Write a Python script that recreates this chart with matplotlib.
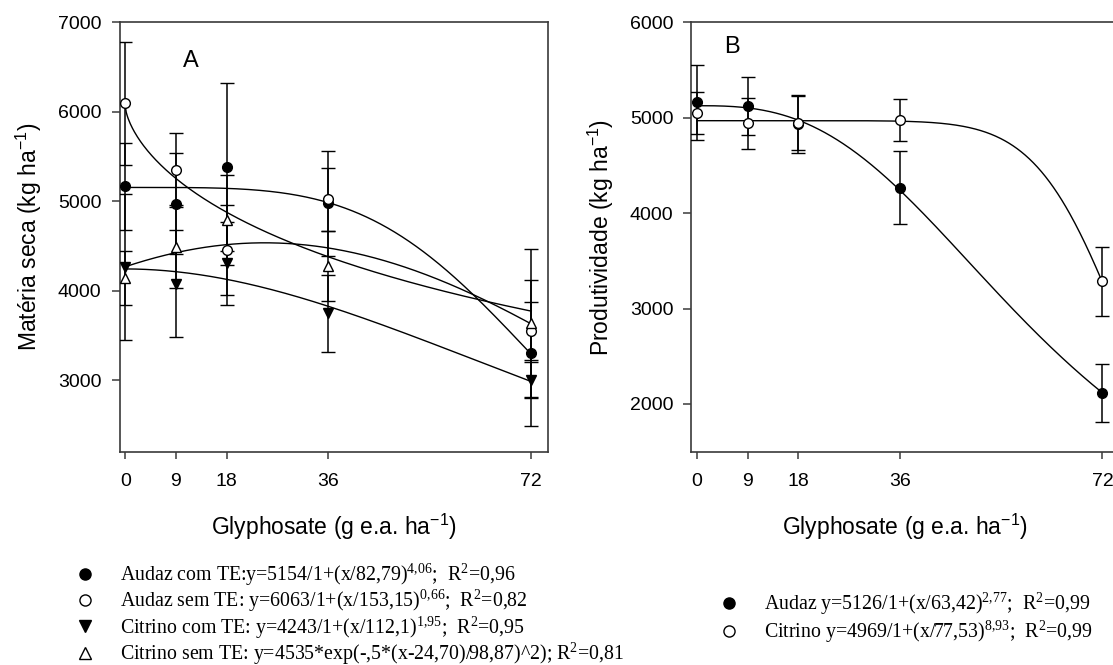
import numpy as np
import matplotlib
matplotlib.use("Agg")
import matplotlib.pyplot as plt
from matplotlib.lines import Line2D

plt.rcParams['font.family'] = ['Liberation Sans', 'DejaVu Sans']
plt.rcParams['mathtext.fontset'] = 'custom'
plt.rcParams['mathtext.rm'] = 'Liberation Serif'
plt.rcParams['mathtext.default'] = 'regular'

# ---------------- data ----------------
doses = [0, 9, 18, 36, 72]
dose_ticks = [0, 9, 18, 36, 72]

# Panel A: Matéria seca
audaz_com = [5165, 4970, 5385, 4975, 3304]
audaz_com_err = [490, 565, 940, 585, 820]
audaz_sem = [6095, 5345, 4453, 5020, 3548]
audaz_sem_err = [690, 415, 503, 355, 320]
citrino_com = [4262, 4080, 4304, 3745, 3000]
citrino_com_err = [815, 597, 466, 430, 200]
citrino_sem = [4140, 4490, 4789, 4274, 3640]
citrino_sem_err = [300, 465, 505, 390, 830]

# fitted curve parameters (as drawn)
audaz_com_fit = [5154, 82.79, 4.06]
audaz_sem_fit = [6063, 153.15, 0.66]
citrino_com_fit = [4243, 112.1, 1.95]
citrino_sem_fit = [4535, 24.70, 70.8]

# Panel B: Produtividade
audaz_prod = [5160, 5122, 4933, 4268, 2115]
audaz_prod_err = [390, 300, 300, 380, 300]
citrino_prod = [5045, 4940, 4947, 4975, 3284]
citrino_prod_err = [220, 270, 285, 220, 360]
audaz_prod_fit = [5126, 63.42, 2.77]
citrino_prod_fit = [4969, 77.53, 8.93]

legend_A = [
    r'Audaz com TE:y=5154/1+(x/82,79)$^{4{,}06}$;  R$^{2}$=0,96',
    r'Audaz sem TE: y=6063/1+(x/153,15)$^{0{,}66}$;  R$^{2}$=0,82',
    r'Citrino com TE: y=4243/1+(x/112,1)$^{1{,}95}$;  R$^{2}$=0,95',
    r'Citrino sem TE: y=4535*exp(-,5*(x-24,70)/98,87)^2); R$^{2}$=0,81',
]
legend_B = [
    r'Audaz y=5126/1+(x/63,42)$^{2{,}77}$;  R$^{2}$=0,99',
    r'Citrino y=4969/1+(x/77,53)$^{8{,}93}$;  R$^{2}$=0,99',
]

def loglogistic(x, p):
    a, b, c = p
    return a / (1 + (x / b) ** c)

def gaussian(x, p):
    a, x0, b = p
    return a * np.exp(-0.5 * ((x - x0) / b) ** 2)

# ---------------- figure ----------------
W, H = 1113, 665
fig = plt.figure(figsize=(W / 100, H / 100), dpi=100)

axA = fig.add_axes([119.6 / W, (H - 451.7) / H, 428.6 / W, 429.4 / H])
axB = fig.add_axes([691.3 / W, (H - 451.7) / H, 428.0 / W, 429.4 / H])

xs = np.linspace(0, 72, 400)
spine_col = '#3a3a3a'
ms = 7
cs = 5

def series(ax, y, e, marker, filled, ms_=ms):
    ax.errorbar(doses, y, yerr=e, fmt=marker, color='black', ecolor='black',
                elinewidth=1.1, capsize=cs, capthick=1.1, markersize=ms_,
                markerfacecolor='black' if filled else 'white',
                markeredgecolor='black', markeredgewidth=1.0, zorder=3)

# Panel A
axA.plot(xs, loglogistic(xs, audaz_com_fit), color='black', lw=1.0, zorder=2)
axA.plot(xs, loglogistic(xs, audaz_sem_fit), color='black', lw=1.0, zorder=2)
axA.plot(xs, loglogistic(xs, citrino_com_fit), color='black', lw=1.0, zorder=2)
axA.plot(xs, gaussian(xs, citrino_sem_fit), color='black', lw=1.0, zorder=2)
series(axA, audaz_com, audaz_com_err, 'o', True)
series(axA, audaz_sem, audaz_sem_err, 'o', False)
series(axA, citrino_com, citrino_com_err, 'v', True, 7.5)
series(axA, citrino_sem, citrino_sem_err, '^', False, 7.5)
axA.set_xlim(-1, 75)
axA.set_ylim(2200, 7000)
axA.set_yticks([3000, 4000, 5000, 6000, 7000])
axA.set_ylabel(r'Matéria seca (kg ha$^{-1}$)', fontsize=16.5, labelpad=10)
axA.text(0.167, 0.91, 'A', transform=axA.transAxes, fontsize=17,
         ha='center', va='center')

# Panel B
axB.plot(xs, loglogistic(xs, audaz_prod_fit), color='black', lw=1.0, zorder=2)
axB.plot(xs, loglogistic(xs, citrino_prod_fit), color='black', lw=1.0, zorder=2)
series(axB, audaz_prod, audaz_prod_err, 'o', True)
series(axB, citrino_prod, citrino_prod_err, 'o', False)
axB.set_xlim(-1, 75)
axB.set_ylim(1500, 6000)
axB.set_yticks([2000, 3000, 4000, 5000, 6000])
axB.set_ylabel(r'Produtividade (kg ha$^{-1}$)', fontsize=16.5, labelpad=10)
axB.text(0.095, 0.943, 'B', transform=axB.transAxes, fontsize=17,
         ha='center', va='center')

for ax in (axA, axB):
    ax.set_xticks(dose_ticks)
    ax.set_xlabel(r'Glyphosate (g e.a. ha$^{-1}$)', fontsize=16.5, labelpad=16)
    for s in ax.spines.values():
        s.set_color(spine_col)
        s.set_linewidth(1.2)
    ax.tick_params(axis='x', direction='out', length=5, width=1.1,
                   color=spine_col, labelsize=14, pad=10)
    ax.tick_params(axis='y', direction='out', length=6, width=1.1,
                   color=spine_col, labelsize=14, pad=7)

# Legends
def make_handles(specs):
    hs = []
    for m, filled, size in specs:
        hs.append(Line2D([], [], linestyle='none', marker=m, markersize=size,
                         markerfacecolor='black' if filled else 'white',
                         markeredgecolor='black', markeredgewidth=1.0))
    return hs

handlesA = make_handles([('o', True, 8), ('o', False, 8), ('v', True, 8.5), ('^', False, 8.5)])
handlesB = make_handles([('o', True, 8), ('o', False, 8)])

legA = fig.legend(handlesA, legend_A, loc='upper left',
                  bbox_to_anchor=(75.2 / W, 1 - 562 / H), frameon=False,
                  prop={'family': ['Liberation Serif', 'DejaVu Serif'], 'size': 14.3},
                  handlelength=1.0, handletextpad=1.25,
                  borderpad=0, borderaxespad=0, labelspacing=0.0, numpoints=1)
legB = fig.legend(handlesB, legend_B, loc='upper left',
                  bbox_to_anchor=(719.4 / W, 1 - 590.5 / H), frameon=False,
                  prop={'family': ['Liberation Serif', 'DejaVu Serif'], 'size': 14.3},
                  handlelength=1.0, handletextpad=1.246,
                  borderpad=0, borderaxespad=0, labelspacing=0.1, numpoints=1)

fig.savefig('out.png', dpi=100)
